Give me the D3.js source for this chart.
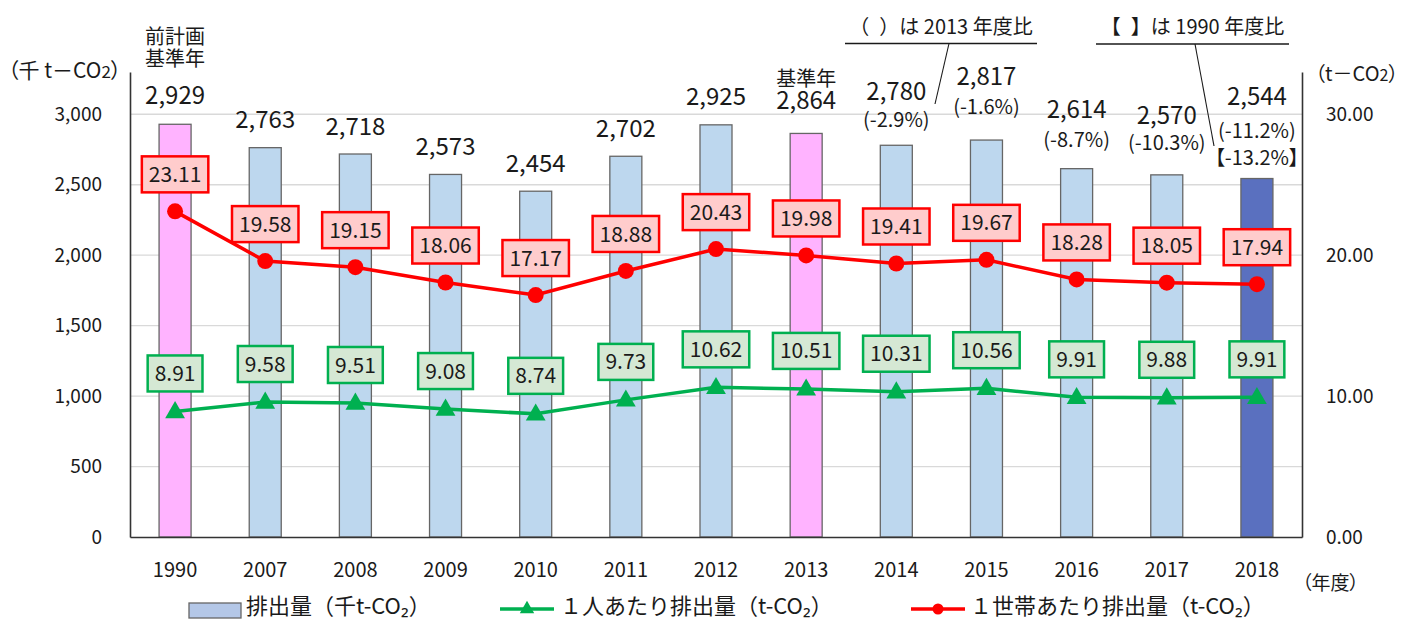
<!DOCTYPE html>
<html>
<head>
<meta charset="utf-8">
<script src="https://cdn.jsdelivr.net/npm/d3@7"></script>
<style>
  body { margin: 0; background: #fff; }
  svg text { font-family: "Noto Sans CJK JP", "Noto Sans", sans-serif; fill: #1a1a1a; }
  .palt { font-feature-settings: "palt"; }
</style>
</head>
<body>
<div id="chart"></div>
<script>
const years = ['1990', '2007', '2008', '2009', '2010', '2011', '2012', '2013', '2014', '2015', '2016', '2017', '2018']
const emissions = [2929, 2763, 2718, 2573, 2454, 2702, 2925, 2864, 2780, 2817, 2614, 2570, 2544]
const perPerson = [8.91, 9.58, 9.51, 9.08, 8.74, 9.73, 10.62, 10.51, 10.31, 10.56, 9.91, 9.88, 9.91]
const perHousehold = [23.11, 19.58, 19.15, 18.06, 17.17, 18.88, 20.43, 19.98, 19.41, 19.67, 18.28, 18.05, 17.94]
const vs2013 = [null, null, null, null, null, null, null, null, -2.9, -1.6, -8.7, -10.3, -11.2]
const vs1990 = [null, null, null, null, null, null, null, null, null, null, null, null, -13.2]
const yearNotes = { 1990: ['前計画', '基準年'], 2013: ['基準年'] }
const leftTicks = [0, 500, 1000, 1500, 2000, 2500, 3000]
const rightTicks = [0, 10, 20, 30]

const width = 1403
const height = 622
const margin = { top: 72, right: 101, bottom: 85, left: 130 }

// how far above the bar top each label line sits (number, % line, bracket line)
const labelDy = {
  1990: { num: 29 }, 2013: { num: 33 },
  2014: { num: 54, pct: 25 }, 2015: { num: 64, pct: 33 }, 2016: { num: 59, pct: 29 },
  2017: { num: 60, pct: 32 }, 2018: { num: 82, pct: 48, brk: 21 }
}

const barColor = d => (d === '1990' || d === '2013') ? '#ffb3ff' : (d === '2018' ? '#5a70bf' : '#bdd7ee')

const svg = d3.select('#chart')
  .append('svg')
  .attr('width', width)
  .attr('height', height)

const x = d3.scaleBand()
  .domain(years)
  .range([margin.left, width - margin.right])
  .paddingInner(0.645)
  .paddingOuter(0.3225)

const y = d3.scaleLinear()
  .domain([0, 3300])
  .range([height - margin.bottom, margin.top])

const y2 = d3.scaleLinear()
  .domain([0, 33])
  .range([height - margin.bottom, margin.top])

const cx = d => x(d) + x.bandwidth() / 2

// gridlines
svg.append('g')
  .selectAll('line')
  .data(leftTicks.slice(1))
  .enter().append('line')
  .attr('x1', margin.left)
  .attr('x2', width - margin.right)
  .attr('y1', d => y(d))
  .attr('y2', d => y(d))
  .attr('stroke', '#d9d9d9')
  .attr('stroke-width', 1.3)

// bars
svg.selectAll('.bar')
  .data(years)
  .enter().append('rect')
  .attr('class', 'bar')
  .attr('x', d => x(d))
  .attr('y', (d, i) => y(emissions[i]))
  .attr('width', x.bandwidth())
  .attr('height', (d, i) => y(0) - y(emissions[i]))
  .attr('fill', d => barColor(d))
  .attr('stroke', '#666')
  .attr('stroke-width', 1.3)

// axes
const axisLeft = svg.append('g')
  .attr('transform', `translate(${margin.left},0)`)
  .call(d3.axisLeft(y).tickValues(leftTicks).tickSize(0).tickPadding(28).tickFormat(d3.format(',')))
const axisRight = svg.append('g')
  .attr('transform', `translate(${width - margin.right},0)`)
  .call(d3.axisRight(y2).tickValues(rightTicks).tickSize(0).tickPadding(24).tickFormat(d3.format('.2f')))
const axisBottom = svg.append('g')
  .attr('transform', `translate(0,${y(0)})`)
  .call(d3.axisBottom(x).tickSize(0).tickPadding(26))

;[axisLeft, axisRight, axisBottom].forEach(a => {
  a.select('.domain').attr('stroke', '#333').attr('stroke-width', 1.6)
  a.selectAll('text').attr('font-size', 19).attr('fill', '#1a1a1a')
})
axisBottom.selectAll('text').attr('font-size', 20)

// axis titles
const leftTitle = svg.append('text').attr('class', 'palt').attr('x', 8).attr('y', 78).attr('font-size', 21)
leftTitle.append('tspan').text('（千 t－CO')
leftTitle.append('tspan').attr('font-size', 17).text('2')
leftTitle.append('tspan').text('）')

const rightTitle = svg.append('text').attr('class', 'palt').attr('x', 1315).attr('y', 81).attr('font-size', 20)
rightTitle.append('tspan').text('（t－CO')
rightTitle.append('tspan').attr('font-size', 16).text('2')
rightTitle.append('tspan').text('）')

svg.append('text').attr('class', 'palt').attr('x', 1302).attr('y', 590).attr('font-size', 19).text('（年度）')

// bar value labels: one text element per bar, one tspan per line
const barLabels = svg.append('g')
years.forEach((yr, i) => {
  const top = y(emissions[i])
  const dy = labelDy[yr] || { num: 28 }
  const numY = top - dy.num
  const lines = []
  const notes = yearNotes[yr]
  if (notes) {
    notes.slice().reverse().forEach((n, k) => {
      lines.unshift({ text: n, y: numY - (yr === '1990' ? 36 : 22) - k * 22, size: 20 })
    })
  }
  lines.push({ text: d3.format(',')(emissions[i]), y: numY, size: 24 })
  if (vs2013[i] !== null) lines.push({ text: `(${vs2013[i].toFixed(1)}%)`, y: top - dy.pct, size: 20 })
  if (vs1990[i] !== null) lines.push({ text: `【${vs1990[i].toFixed(1)}%】`, y: top - dy.brk, size: 20, palt: true })

  const t = barLabels.append('text').attr('text-anchor', 'middle')
  lines.forEach(l => {
    t.append('tspan')
      .attr('x', cx(yr))
      .attr('y', l.y + l.size * 0.36)
      .attr('font-size', l.size)
      .attr('class', l.palt ? 'palt' : null)
      .text(l.text)
  })
})

// callout annotations
function callout (text, x1, x2, ly, tx, ty) {
  svg.append('text').attr('x', (x1 + x2) / 2).attr('y', ly - 10)
    .attr('text-anchor', 'middle').attr('font-size', 20).text(text)
  svg.append('line').attr('x1', x1).attr('x2', x2).attr('y1', ly).attr('y2', ly)
    .attr('stroke', '#1a1a1a').attr('stroke-width', 1.3)
  svg.append('line').attr('x1', tx).attr('y1', ly).attr('x2', ty[0]).attr('y2', ty[1])
    .attr('stroke', '#1a1a1a').attr('stroke-width', 1.1)
}
callout('（\u2002）は 2013 年度比', 845, 1037, 43.5, 949, [935, 104])
callout('【\u2002】は 1990 年度比', 1096, 1289, 44, 1195, [1214, 146])

// lines
const lineGen = vals => d3.line()
  .x((d, i) => cx(years[i]))
  .y(d => y2(d))(vals)

svg.append('path')
  .attr('d', lineGen(perPerson))
  .attr('fill', 'none')
  .attr('stroke', '#00b050')
  .attr('stroke-width', 3.5)

svg.append('path')
  .attr('d', lineGen(perHousehold))
  .attr('fill', 'none')
  .attr('stroke', '#ff0000')
  .attr('stroke-width', 3.5)

svg.selectAll('.tri')
  .data(perPerson)
  .enter().append('path')
  .attr('class', 'tri')
  .attr('transform', (d, i) => `translate(${cx(years[i])},${y2(d) + 1})`)
  .attr('d', d3.symbol().type(d3.symbolTriangle).size(170))
  .attr('fill', '#00b050')

svg.selectAll('.dot')
  .data(perHousehold)
  .enter().append('circle')
  .attr('class', 'dot')
  .attr('cx', (d, i) => cx(years[i]))
  .attr('cy', d => y2(d))
  .attr('r', 8)
  .attr('fill', '#ff0000')

// boxed data labels
function boxLabels (vals, offset, fill, stroke) {
  vals.forEach((v, i) => {
    const g = svg.append('g')
      .attr('transform', `translate(${cx(years[i])},${y2(v) - offset})`)
    const rect = g.append('rect')
    const t = g.append('text')
      .attr('text-anchor', 'middle').attr('dy', '0.36em').attr('font-size', 21)
      .text(v.toFixed(2))
    const w = t.node().getComputedTextLength() + 14
    rect.attr('x', -w / 2).attr('y', -18).attr('width', w).attr('height', 36)
      .attr('fill', fill).attr('stroke', stroke).attr('stroke-width', 2.5)
  })
}
boxLabels(perHousehold, 37, '#ffcccc', '#ff0000')
boxLabels(perPerson, 38, '#d5e8d4', '#00b050')

// legend
const legend = svg.append('g').attr('transform', 'translate(0,607)')
legend.append('rect').attr('x', 189).attr('y', -4).attr('width', 52).attr('height', 15)
  .attr('fill', '#b4c7e7').attr('stroke', '#666').attr('stroke-width', 1.3)
legend.append('text').attr('x', 246).attr('y', 0).attr('dy', '0.33em').attr('font-size', 22)
  .text('排出量（千t-CO₂）')

legend.append('line').attr('x1', 500).attr('x2', 554).attr('y1', 2).attr('y2', 2)
  .attr('stroke', '#00b050').attr('stroke-width', 3.5)
legend.append('path').attr('transform', 'translate(527,2)')
  .attr('d', d3.symbol().type(d3.symbolTriangle).size(90)).attr('fill', '#00b050')
legend.append('text').attr('x', 560).attr('y', 0).attr('dy', '0.33em').attr('font-size', 22)
  .text('１人あたり排出量（t-CO₂）')

legend.append('line').attr('x1', 911).attr('x2', 965).attr('y1', 2).attr('y2', 2)
  .attr('stroke', '#ff0000').attr('stroke-width', 3.5)
legend.append('circle').attr('cx', 938).attr('cy', 2).attr('r', 5.5).attr('fill', '#ff0000')
legend.append('text').attr('x', 970).attr('y', 0).attr('dy', '0.33em').attr('font-size', 22)
  .text('１世帯あたり排出量（t-CO₂）')
</script>
</body>
</html>
